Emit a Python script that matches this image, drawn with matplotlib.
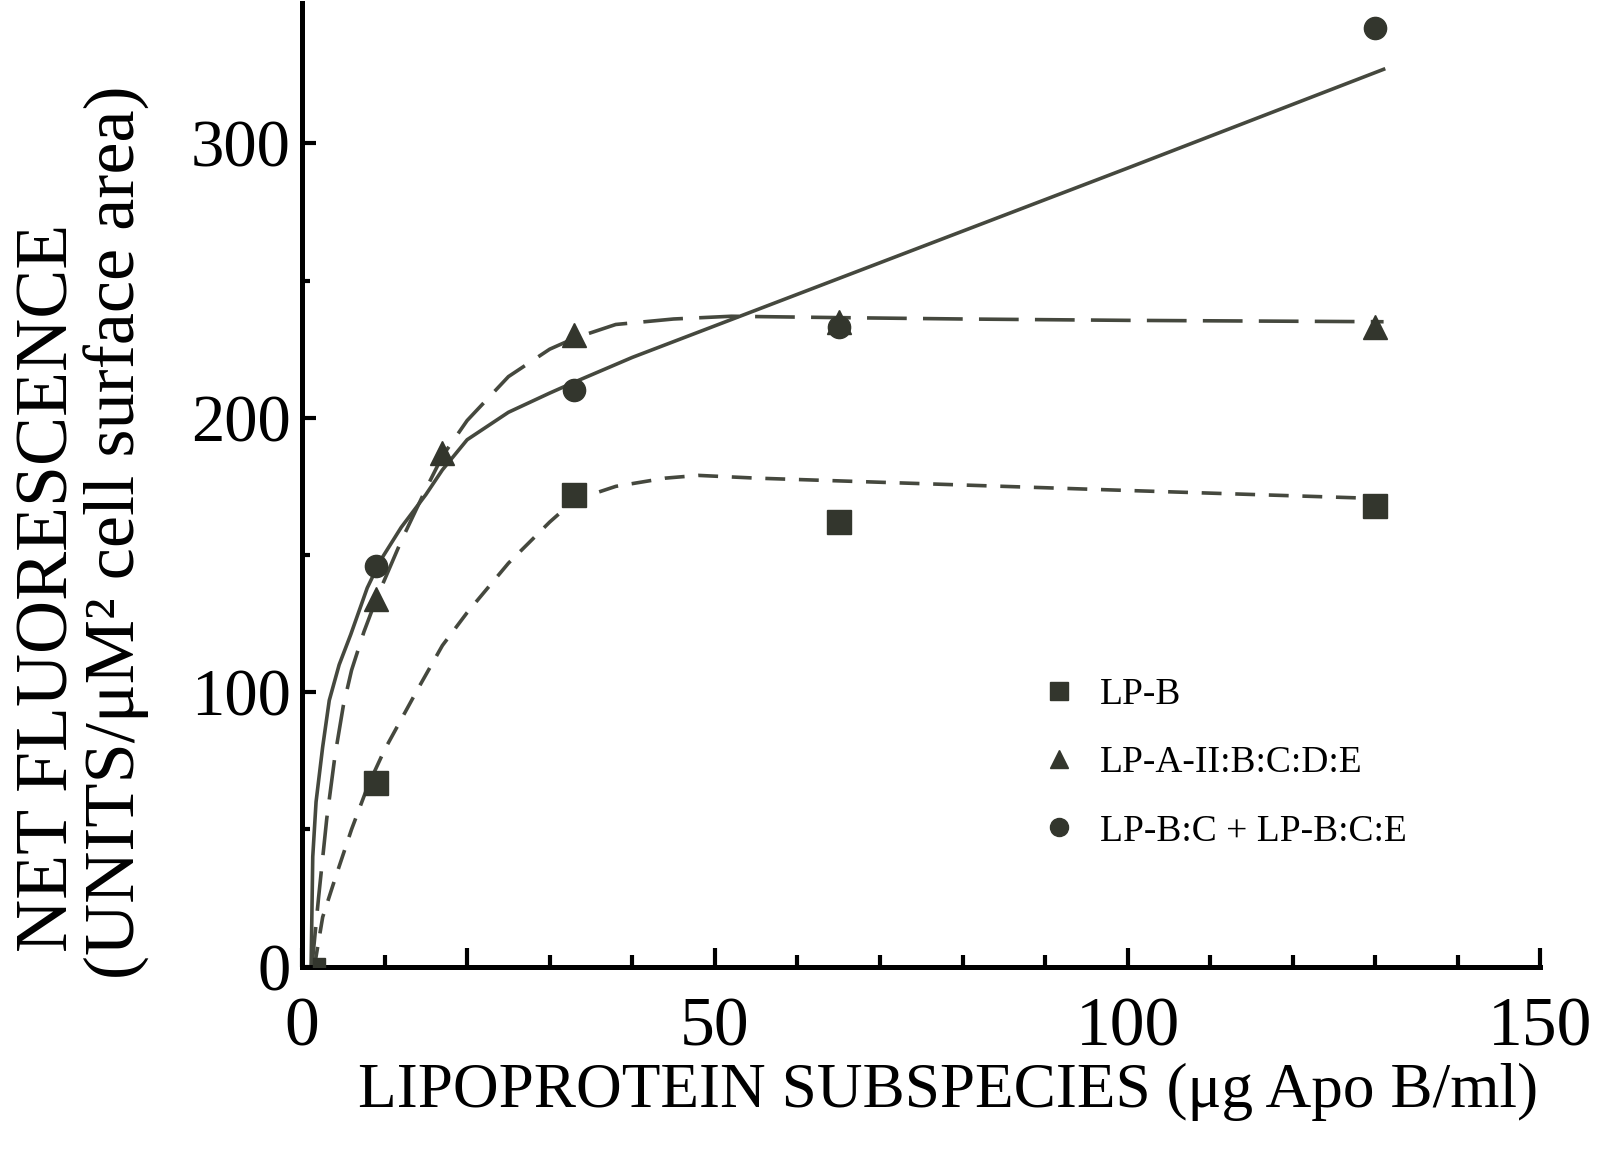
import matplotlib
matplotlib.use("Agg")
import matplotlib.pyplot as plt
from matplotlib.lines import Line2D

plt.rcParams['font.family'] = ['Liberation Serif', 'DejaVu Serif']

# measured points
conc = [9, 33, 65, 130]
lpb = [67, 172, 162, 168]
tri_x = [9, 17, 33, 65, 130]
lpa = [134, 187, 230, 235, 233]
lpbc = [146, 210, 233, 342]
origin_x = [2]
origin_y = [1]

# fitted curves
solid_x = [1.1, 1.3, 1.7, 2.5, 3.3, 4.5, 5.9, 7.9, 9.5, 12, 15, 17, 20, 25, 30, 33, 40, 60, 80, 100, 131]
solid_y = [0, 40, 60, 80, 97, 110, 121, 138, 148, 160, 172, 181, 192, 202, 209, 213, 222, 245, 268, 291, 327]
longd_x = [1.2, 2, 3, 4, 5, 6, 7.5, 9, 12, 15, 17, 20, 25, 30, 33, 38, 45, 52, 65, 80, 100, 131]
longd_y = [0, 25, 54, 77, 95, 108, 122, 134, 155, 174, 186, 199, 215, 225, 229, 234, 236, 237, 236.5, 236, 235.5, 235]
shortd_x = [1.5, 2.5, 4, 6, 8, 10, 12, 14, 17, 20, 25, 30, 33, 38, 44, 48, 55, 65, 80, 100, 131]
shortd_y = [0, 18, 32, 50, 66, 79, 90, 101, 117, 129, 147, 162, 170, 175, 178, 179, 178, 177, 175.5, 173.5, 170.5]

labels = ['LP-B', 'LP-A-II:B:C:D:E', 'LP-B:C + LP-B:C:E']

mk = '#33362d'
ln = '#45483e'

fig = plt.figure(figsize=(15.98, 11.52), dpi=100)
ax = fig.add_axes([0.189, 0.161, 0.775, 0.836])

ax.plot(solid_x, solid_y, color=ln, lw=2.6, ls='-', zorder=2)
ax.plot(longd_x, longd_y, color=ln, lw=2.6, ls=(0, (11, 4.5)), zorder=2)
ax.plot(shortd_x, shortd_y, color=ln, lw=2.6, ls=(0, (5.5, 3.8)), zorder=2)

ax.plot(conc, lpb, ls='none', marker='s', ms=17, color=mk, zorder=3)
ax.plot(tri_x, lpa, ls='none', marker='^', ms=17, color=mk, zorder=3)
ax.plot(conc, lpbc, ls='none', marker='o', ms=16, color=mk, zorder=3)
ax.plot(origin_x, origin_y, ls='none', marker='s', ms=9, color=mk, zorder=3)

ax.set_xlim(0, 150)
ax.set_ylim(0, 351)
ax.spines['top'].set_visible(False)
ax.spines['right'].set_visible(False)
for s in ['left', 'bottom']:
    ax.spines[s].set_linewidth(3.6)
    ax.spines[s].set_color('black')

ax.set_xticks([0, 20, 50, 100, 150])
ax.set_xticklabels(['0', '', '50', '100', '150'])
ax.set_xticks([10, 30, 40, 60, 70, 80, 90, 110, 120, 130, 140], minor=True)
ax.set_yticks([0, 100, 200, 300])
ax.set_yticks([50, 150, 250], minor=True)

ax.tick_params(axis='x', which='major', direction='in', length=14, width=3, labelsize=50, pad=22)
ax.tick_params(axis='x', which='minor', direction='in', length=9, width=3)
ax.tick_params(axis='y', which='major', direction='in', length=10, width=3, labelsize=48, pad=8)
ax.tick_params(axis='y', which='minor', direction='in', length=6, width=3)

fig.text(0.593, 0.052, 'LIPOPROTEIN SUBSPECIES (μg Apo B/ml)', fontsize=45.5,
         ha='center', va='center')
fig.text(0.031, 0.49, 'NET FLUORESCENCE', fontsize=53, rotation=90,
         ha='center', va='center')
fig.text(0.073, 0.538, '(UNITS/μM² cell surface area)', fontsize=52, rotation=90,
         ha='center', va='center')

handles = [Line2D([], [], ls='none', marker='s', ms=13, color=mk),
           Line2D([], [], ls='none', marker='^', ms=13, color=mk),
           Line2D([], [], ls='none', marker='o', ms=13, color=mk)]
ax.legend(handles, labels, loc='upper left', bbox_to_anchor=(0.596, 0.300),
          frameon=False, fontsize=27, handlelength=1.0, handletextpad=0.6,
          labelspacing=0.9, borderpad=0, borderaxespad=0)

fig.savefig('out.png', dpi=100)
